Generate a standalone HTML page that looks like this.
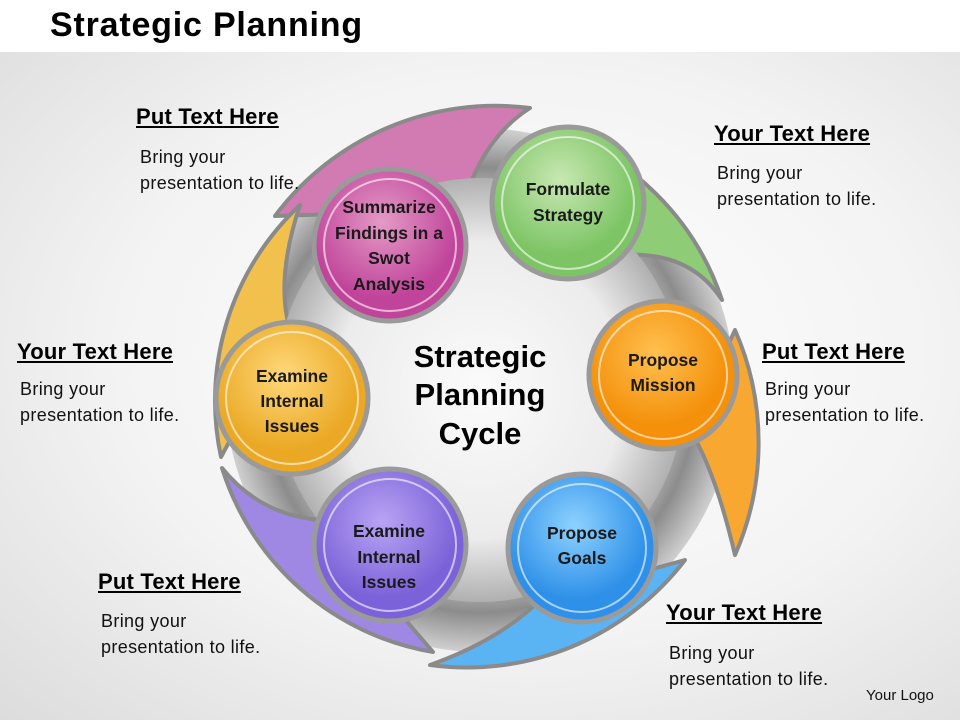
<!DOCTYPE html>
<html><head><meta charset="utf-8"><style>
body{margin:0;width:960px;height:720px;overflow:hidden;font-family:"Liberation Sans",sans-serif;}
.bg{position:absolute;left:0;top:52px;width:960px;height:668px;background:radial-gradient(ellipse at 55% 45%,#ffffff 0%,#f3f3f3 55%,#dcdcdc 100%);}
.top{position:absolute;left:0;top:0;width:960px;height:52px;background:#fff;}
.t{position:absolute;font-weight:bold;font-size:22px;text-decoration:underline;color:#000;white-space:nowrap;letter-spacing:0.2px;}
.b{position:absolute;font-size:18px;line-height:26px;color:#111;white-space:nowrap;letter-spacing:0.35px;}
</style></head><body>
<div class="bg"></div><div class="top"></div>
<div style="position:absolute;left:50px;top:6px;font-size:34px;font-weight:bold;letter-spacing:0.8px;">Strategic Planning</div>
<svg width="960" height="720" style="position:absolute;left:0;top:0">
<defs>
<radialGradient id="gc" cx="50%" cy="50%" r="50%"><stop offset="0" stop-color="#fbfbfb"/><stop offset="0.7" stop-color="#ececec"/><stop offset="1" stop-color="#b0b0b0"/></radialGradient>
<radialGradient id="ring" cx="50%" cy="50%" r="50%"><stop offset="0.7" stop-color="#c8c8c8"/><stop offset="0.85" stop-color="#8c8c8c"/><stop offset="1" stop-color="#d0d0d0"/></radialGradient>
<radialGradient id="pk" cx="45%" cy="35%"><stop offset="0" stop-color="#e49ac6"/><stop offset="1" stop-color="#c0449a"/></radialGradient>
<radialGradient id="gr" cx="45%" cy="35%"><stop offset="0" stop-color="#c8e8b2"/><stop offset="1" stop-color="#7cc464"/></radialGradient>
<radialGradient id="or" cx="45%" cy="35%"><stop offset="0" stop-color="#ffc050"/><stop offset="1" stop-color="#f4900a"/></radialGradient>
<radialGradient id="bl" cx="45%" cy="35%"><stop offset="0" stop-color="#8ed2ff"/><stop offset="1" stop-color="#2e90e8"/></radialGradient>
<radialGradient id="pu" cx="45%" cy="35%"><stop offset="0" stop-color="#b8a4f4"/><stop offset="1" stop-color="#7c62d8"/></radialGradient>
<radialGradient id="ye" cx="45%" cy="35%"><stop offset="0" stop-color="#ffd87a"/><stop offset="1" stop-color="#eaa824"/></radialGradient>
</defs>
<ellipse cx="480" cy="390" rx="255" ry="262" fill="url(#ring)"/>
<g stroke="#8a8a8a" stroke-width="4" stroke-linejoin="round">
<path d="M275,216 A275 275 0 0 1 530,108 Q480,140 462,210 Z" fill="#d27ab2"/>
<path d="M549,129 A268 268 0 0 1 722,300 Q690,250 620,255 Z" fill="#8fcc76"/>
<path d="M735,330 A280 280 0 0 1 735,555 Q715,470 690,430 Z" fill="#f8a830"/>
<path d="M685,560 A275 275 0 0 1 430,665 Q500,640 540,600 Z" fill="#5ab4f4"/>
<path d="M433,652 A268 268 0 0 1 222,468 Q260,515 320,520 Z" fill="#9e88e4"/>
<path d="M221,457 A268 268 0 0 1 300,205 Q275,280 290,330 Z" fill="#f2c04c"/>
</g>
<ellipse cx="480" cy="390" rx="205" ry="212" fill="url(#gc)"/>
<g stroke="#9a9a9a" stroke-width="5">
<circle cx="390" cy="245" r="76" fill="url(#pk)"/>
<circle cx="568" cy="203" r="76" fill="url(#gr)"/>
<circle cx="663" cy="375" r="74" fill="url(#or)"/>
<circle cx="582" cy="548" r="74" fill="url(#bl)"/>
<circle cx="390" cy="545" r="76" fill="url(#pu)"/>
<circle cx="292" cy="398" r="76" fill="url(#ye)"/>
</g>
<g fill="none" stroke="#ffffff" stroke-opacity="0.6" stroke-width="2">
<circle cx="390" cy="245" r="66"/><circle cx="568" cy="203" r="66"/><circle cx="663" cy="375" r="64"/>
<circle cx="582" cy="548" r="64"/><circle cx="390" cy="545" r="66"/><circle cx="292" cy="398" r="66"/>
</g>
<g font-family="Liberation Sans" font-weight="bold" font-size="17.5" text-anchor="middle" fill="#1a1a1a">
<text x="389" y="213">Summarize</text><text x="389" y="239">Findings in a</text><text x="389" y="264">Swot</text><text x="389" y="290">Analysis</text>
<text x="568" y="195">Formulate</text><text x="568" y="221">Strategy</text>
<text x="663" y="366">Propose</text><text x="663" y="391">Mission</text>
<text x="582" y="539">Propose</text><text x="582" y="564">Goals</text>
<text x="389" y="537">Examine</text><text x="389" y="563">Internal</text><text x="389" y="588">Issues</text>
<text x="292" y="382">Examine</text><text x="292" y="407">Internal</text><text x="292" y="432">Issues</text>
</g>
<g font-family="Liberation Sans" font-weight="bold" font-size="31" text-anchor="middle" fill="#000">
<text x="480" y="367">Strategic</text><text x="480" y="405">Planning</text><text x="480" y="444">Cycle</text>
</g>
</svg>
<div class="t" style="left:136px;top:104px">Put Text Here</div>
<div class="b" style="left:140px;top:144px">Bring your<br>presentation to life.</div>
<div class="t" style="left:714px;top:121px">Your Text Here</div>
<div class="b" style="left:717px;top:160px">Bring your<br>presentation to life.</div>
<div class="t" style="left:17px;top:339px">Your Text Here</div>
<div class="b" style="left:20px;top:376px">Bring your<br>presentation to life.</div>
<div class="t" style="left:762px;top:339px">Put Text Here</div>
<div class="b" style="left:765px;top:376px">Bring your<br>presentation to life.</div>
<div class="t" style="left:98px;top:569px">Put Text Here</div>
<div class="b" style="left:101px;top:608px">Bring your<br>presentation to life.</div>
<div class="t" style="left:666px;top:600px">Your Text Here</div>
<div class="b" style="left:669px;top:640px">Bring your<br>presentation to life.</div>
<div class="b" style="left:866px;top:683px;font-size:15px;letter-spacing:0">Your Logo</div>
</body></html>
